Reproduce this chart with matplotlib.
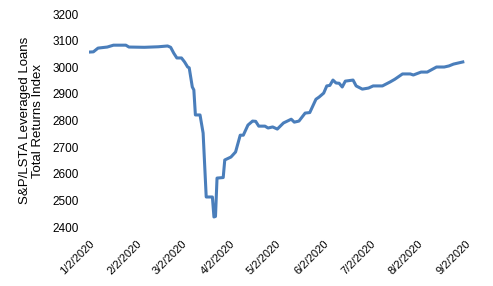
import matplotlib.pyplot as plt
import pandas as pd

plt.rcParams['font.family'] = ['Liberation Sans', 'DejaVu Sans']

# Index levels
dates = ['2020-01-02', '2020-01-05', '2020-01-08', '2020-01-14', '2020-01-18',
         '2020-01-26', '2020-01-28', '2020-02-07', '2020-02-16', '2020-02-22',
         '2020-02-24', '2020-02-26', '2020-02-28', '2020-03-02', '2020-03-04',
         '2020-03-06', '2020-03-07', '2020-03-09', '2020-03-10', '2020-03-11',
         '2020-03-14', '2020-03-16', '2020-03-18', '2020-03-22', '2020-03-23',
         '2020-03-24', '2020-03-25', '2020-03-29', '2020-03-30', '2020-04-03',
         '2020-04-06', '2020-04-09', '2020-04-11', '2020-04-14', '2020-04-17',
         '2020-04-19', '2020-04-21', '2020-04-25', '2020-04-27', '2020-04-30',
         '2020-05-03', '2020-05-07', '2020-05-12', '2020-05-14', '2020-05-17',
         '2020-05-21', '2020-05-24', '2020-05-28', '2020-05-30', '2020-06-02',
         '2020-06-04', '2020-06-06', '2020-06-08', '2020-06-10', '2020-06-12',
         '2020-06-14', '2020-06-16', '2020-06-21', '2020-06-23', '2020-06-27',
         '2020-07-01', '2020-07-04', '2020-07-10', '2020-07-15', '2020-07-18',
         '2020-07-23', '2020-07-28', '2020-07-30', '2020-08-04', '2020-08-08',
         '2020-08-14', '2020-08-19', '2020-08-22', '2020-08-25', '2020-08-31']
values = [3057, 3058, 3072, 3076, 3083,
          3083, 3076, 3075, 3077, 3080,
          3075, 3053, 3035, 3035, 3020,
          3001, 2998, 2926, 2915, 2821,
          2821, 2753, 2513, 2513, 2438,
          2440, 2584, 2586, 2652, 2663,
          2682, 2745, 2745, 2783, 2798,
          2797, 2779, 2779, 2772, 2776,
          2768, 2791, 2805, 2794, 2798,
          2828, 2830, 2880, 2888, 2903,
          2930, 2932, 2952, 2941, 2940,
          2926, 2948, 2952, 2930, 2918,
          2922, 2930, 2930, 2945, 2955,
          2975, 2975, 2971, 2982, 2982,
          3001, 3001, 3005, 3012, 3020]

tick_dates = ['2020-01-02', '2020-02-02', '2020-03-02', '2020-04-02', '2020-05-02',
              '2020-06-02', '2020-07-02', '2020-08-02', '2020-09-02']
tick_labels = ['1/2/2020', '2/2/2020', '3/2/2020', '4/2/2020', '5/2/2020',
               '6/2/2020', '7/2/2020', '8/2/2020', '9/2/2020']

x = pd.to_datetime(dates)
ticks = pd.to_datetime(tick_dates)

fig = plt.figure(figsize=(4.93, 2.86), dpi=100)
ax = fig.add_axes([0.180, 0.206, 0.765, 0.745])

ax.plot(x, values, color='#4A7EBB', lw=2.2, solid_joinstyle='round')

ax.set_ylim(2400, 3200)
ax.set_yticks(range(2400, 3201, 100))
ax.set_xlim(ticks[0], ticks[-1])
ax.set_xticks(ticks)
ax.set_xticklabels(tick_labels, rotation=45, ha='right', rotation_mode='anchor')

for s in ax.spines.values():
    s.set_visible(False)
ax.tick_params(length=0, labelsize=8.5, pad=7)
ax.tick_params(axis='x', labelsize=8, pad=8)

ax.set_ylabel('S&P/LSTA Leveraged Loans\nTotal Returns Index', fontsize=9.5,
              linespacing=1.15, labelpad=6)

fig.savefig('out.png', dpi=100)
